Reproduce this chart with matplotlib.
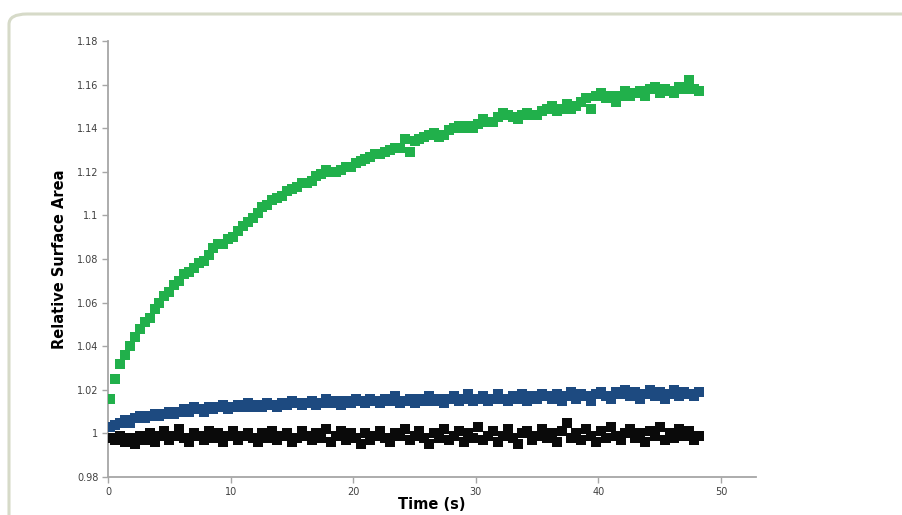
import numpy as np
import matplotlib
matplotlib.use("Agg")
import matplotlib.pyplot as plt
from matplotlib.patches import FancyBboxPatch
from matplotlib.ticker import FuncFormatter

# sample times (s)
time_s = np.round(np.arange(0.2, 48.21, 0.4), 2)

green_vals = [
    1.016, 1.025, 1.032, 1.036, 1.040, 1.044, 1.048, 1.051, 1.053, 1.057,
    1.060, 1.063, 1.065, 1.068, 1.070, 1.073, 1.074, 1.076, 1.078, 1.079,
    1.082, 1.085, 1.087, 1.087, 1.089, 1.090, 1.093, 1.095, 1.097, 1.099,
    1.101, 1.104, 1.105, 1.107, 1.108, 1.109, 1.111, 1.112, 1.113, 1.115,
    1.115, 1.116, 1.118, 1.119, 1.121, 1.120, 1.120, 1.121, 1.122, 1.122,
    1.124, 1.125, 1.126, 1.127, 1.128, 1.128, 1.129, 1.130, 1.131, 1.131,
    1.135, 1.129, 1.134, 1.135, 1.136, 1.137, 1.138, 1.136, 1.137, 1.139,
    1.140, 1.141, 1.140, 1.141, 1.140, 1.142, 1.144, 1.143, 1.143, 1.145,
    1.147, 1.146, 1.145, 1.144, 1.146, 1.147, 1.146, 1.146, 1.148, 1.149,
    1.150, 1.148, 1.149, 1.151, 1.149, 1.150, 1.152, 1.154, 1.149, 1.155,
    1.156, 1.154, 1.155, 1.152, 1.155, 1.157, 1.155, 1.156, 1.157, 1.155,
    1.158, 1.159, 1.156, 1.158, 1.157, 1.156, 1.159, 1.158, 1.162, 1.158,
    1.157,
]

blue_vals = [
    1.003, 1.004, 1.005, 1.006, 1.005, 1.007, 1.008, 1.007, 1.008, 1.009,
    1.008, 1.009, 1.010, 1.009, 1.010, 1.011, 1.010, 1.012, 1.011, 1.010,
    1.012, 1.011, 1.012, 1.013, 1.011, 1.012, 1.013, 1.012, 1.014, 1.012,
    1.013, 1.012, 1.014, 1.013, 1.012, 1.014, 1.013, 1.015, 1.014, 1.013,
    1.014, 1.015, 1.013, 1.014, 1.016, 1.014, 1.015, 1.013, 1.015, 1.014,
    1.016, 1.015, 1.014, 1.016, 1.015, 1.014, 1.016, 1.015, 1.017, 1.014,
    1.015, 1.016, 1.014, 1.016, 1.015, 1.017, 1.015, 1.016, 1.014, 1.016,
    1.017, 1.015, 1.016, 1.018, 1.015, 1.016, 1.017, 1.015, 1.016, 1.018,
    1.016, 1.015, 1.017, 1.016, 1.018, 1.015, 1.017, 1.016, 1.018, 1.017,
    1.016, 1.018, 1.015, 1.017, 1.019, 1.016, 1.018, 1.017, 1.015, 1.018,
    1.019, 1.017, 1.016, 1.019, 1.018, 1.020, 1.017, 1.019, 1.016, 1.018,
    1.020, 1.017, 1.019, 1.016, 1.018, 1.020, 1.017, 1.019, 1.018, 1.017,
    1.019,
]

black_vals = [
    0.998, 0.997, 0.999, 0.996, 0.998, 0.995, 0.999, 0.997, 1.000, 0.996,
    0.999, 1.001, 0.997, 0.999, 1.002, 0.998, 0.996, 1.000, 0.999, 0.997,
    1.001, 0.998, 1.000, 0.996, 0.999, 1.001, 0.997, 0.999, 1.000, 0.998,
    0.996, 1.000, 0.998, 1.001, 0.997, 0.999, 1.000, 0.996, 0.998, 1.001,
    0.999, 0.997, 1.000, 0.998, 1.002, 0.996, 0.999, 1.001, 0.997, 1.000,
    0.998, 0.995, 1.000, 0.997, 0.999, 1.001, 0.998, 0.996, 1.000, 0.999,
    1.002, 0.997, 0.999, 1.001, 0.998, 0.995, 1.000, 0.998, 1.002, 0.997,
    0.999, 1.001, 0.996, 1.000, 0.998, 1.003, 0.997, 0.999, 1.001, 0.996,
    0.999, 1.002, 0.998, 0.995, 1.000, 1.001, 0.997, 0.999, 1.002, 0.998,
    1.000, 0.996, 1.001, 1.005, 0.998, 1.000, 0.997, 1.002, 0.999, 0.996,
    1.001, 0.998, 1.003, 0.999, 0.997, 1.000, 1.002, 0.998, 1.000, 0.996,
    1.001, 0.999, 1.003, 0.997, 1.000, 0.998, 1.002, 0.999, 1.001, 0.997,
    0.999,
]

x_ticks = [0, 10, 20, 30, 40, 50]
y_ticks = [0.98, 1.0, 1.02, 1.04, 1.06, 1.08, 1.1, 1.12, 1.14, 1.16, 1.18]

W, H = 903, 515
fig = plt.figure(figsize=(W / 100, H / 100), dpi=100)
fig.patch.set_facecolor("white")

# rounded outer frame
frame = FancyBboxPatch((9 / W, -0.1), 1.2, 1.1 - 14 / H,
                       boxstyle="round,pad=0,rounding_size=0.02",
                       transform=fig.transFigure, facecolor="none",
                       edgecolor="#d6dac8", linewidth=2.2, zorder=0)
fig.patches.append(frame)

ax = fig.add_axes([108 / W, 1 - 477 / H, (756 - 108) / W, (477 - 41) / H])
ax.set_facecolor("none")

ms = 6.6
ax.plot(time_s, black_vals, "s", color="#0a0a0a", markersize=ms, markeredgewidth=0, zorder=3)
ax.plot(time_s, blue_vals, "s", color="#1d4a80", markersize=ms, markeredgewidth=0, zorder=3)
ax.plot(time_s, green_vals, "s", color="#21b04b", markersize=ms, markeredgewidth=0, zorder=4)

ax.set_xlim(0, 52.85)
ax.set_ylim(0.98, 1.18)
ax.set_xticks(x_ticks)
ax.set_yticks(y_ticks)
ax.yaxis.set_major_formatter(FuncFormatter(lambda v, p: f"{v:g}"))

for s in ["top", "right"]:
    ax.spines[s].set_visible(False)
for s in ["left", "bottom"]:
    ax.spines[s].set_color("#a6a6a6")
    ax.spines[s].set_linewidth(1.3)
ax.tick_params(axis="both", direction="out", length=4, width=1, color="#a6a6a6",
               labelsize=7, labelcolor="#404040", pad=3)

ax.set_xlabel("Time (s)", fontsize=10.5, fontweight="bold", color="black", labelpad=0)
ax.set_ylabel("Relative Surface Area", fontsize=10.5, fontweight="bold", color="black", labelpad=7)

fig.savefig("out.png", dpi=100)
